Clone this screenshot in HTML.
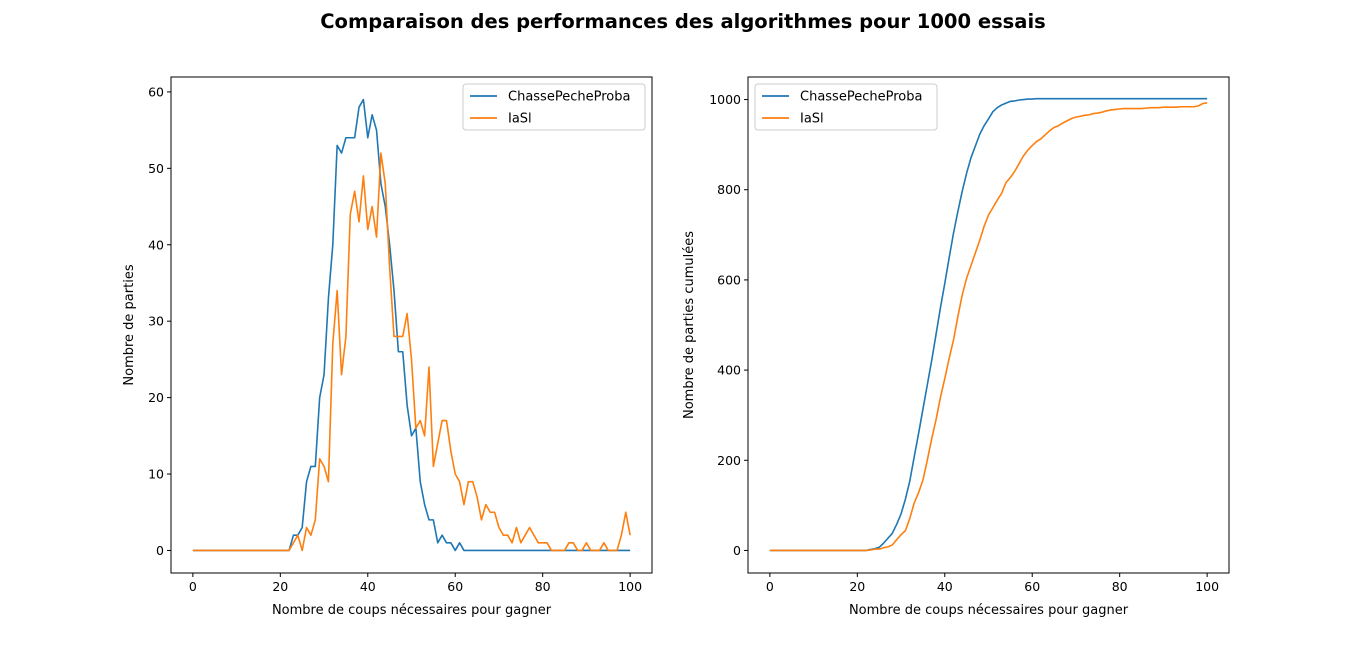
<!DOCTYPE html>
<html><head><meta charset="utf-8"><style>
body{margin:0;background:#fff;width:1366px;height:644px;overflow:hidden;font-family:"Liberation Sans","DejaVu Sans",sans-serif;}
svg text{font-family:"DejaVu Sans","Liberation Sans",sans-serif;}
</style></head><body>
<svg id="chart" width="1366" height="644">
<text x="683" y="28" text-anchor="middle" font-size="19.5" font-weight="bold">Comparaison des performances des algorithmes pour 1000 essais</text>
</svg>
<script>
const seriesNames = ["ChassePecheProba", "IaSl"];
const blueValues = [0,0,0,0,0,0,0,0,0,0,0,0,0,0,0,0,0,0,0,0,0,0,0,2,2,3,9,11,11,20,23,33,40,53,52,54,54,54,58,59,54,57,55,48,45,40,34,26,26,19,15,16,9,6,4,4,1,2,1,1,0,1,0,0,0,0,0,0,0,0,0,0,0,0,0,0,0,0,0,0,0,0,0,0,0,0,0,0,0,0,0,0,0,0,0,0,0,0,0,0,0];
const orangeValues = [0,0,0,0,0,0,0,0,0,0,0,0,0,0,0,0,0,0,0,0,0,0,0,1,2,0,3,2,4,12,11,9,27,34,23,28,44,47,43,49,42,45,41,52,48,37,28,28,28,31,25,16,17,15,24,11,14,17,17,13,10,9,6,9,9,7,4,6,5,5,3,2,2,1,3,1,2,3,2,1,1,1,0,0,0,0,1,1,0,0,1,0,0,0,1,0,0,0,2,5,2];
const xTicks = [0,20,40,60,80,100];
const yTicksLeft = [0,10,20,30,40,50,60];
const yTicksRight = [0,200,400,600,800,1000];
const colors = ["#1f77b4","#ff7f0e"];

const svg = document.getElementById('chart');
const NS = "http://www.w3.org/2000/svg";
function mk(tag, attrs, parent){const e=document.createElementNS(NS,tag);for(const k in attrs)e.setAttribute(k,attrs[k]);(parent||svg).appendChild(e);return e;}
function cumsum(a){let s=0;return a.map(v=>s+=v);}

function drawAxes(cfg){
  const {left,top,width,height,xmin,xmax,ymin,ymax,yTicks,ylabel,series,legendX,prefix}=cfg;
  const g = mk('g',{});
  
  
  const xs = v => left + (v - xmin)/(xmax - xmin)*width;
  const ys = v => top + height - (v - ymin)/(ymax - ymin)*height;
  series.forEach((vals,si)=>{
    const d = vals.map((v,i)=>(i?'L':'M')+xs(i).toFixed(2)+','+ys(v).toFixed(2)).join(' ');
    const p = mk('path',{d:d,fill:'none',stroke:colors[si],'stroke-width':1.6,'stroke-linejoin':'round'},g);
    
    
  });
  mk('rect',{x:left,y:top,width:width,height:height,fill:'none',stroke:'#000','stroke-width':1},g);
  xTicks.forEach(t=>{
    const x=xs(t);
    mk('line',{x1:x,x2:x,y1:top+height,y2:top+height+4,stroke:'#000'},g);
    const tx=mk('text',{x:x,y:top+height+18,'text-anchor':'middle','font-size':12.5},g);
    tx.textContent=t;
    
    
  });
  yTicks.forEach(t=>{
    const y=ys(t);
    mk('line',{x1:left-4,x2:left,y1:y,y2:y,stroke:'#000'},g);
    const tx=mk('text',{x:left-7,y:y+4.5,'text-anchor':'end','font-size':12.5},g);
    tx.textContent=t;
    
    
  });
  const xl=mk('text',{x:left+width/2,y:top+height+41,'text-anchor':'middle','font-size':13},g);
  xl.textContent='Nombre de coups nécessaires pour gagner';
  
  
  const yl=mk('text',{x:0,y:0,'text-anchor':'middle','font-size':13,transform:`translate(${cfg.ylabelX},${top+height/2}) rotate(-90)`},g);
  yl.textContent=ylabel;
  
  
  const lg=mk('g',{},g);
  
  
  mk('rect',{x:legendX,y:top+7,width:182,height:46,rx:3,fill:'#fff',stroke:'#ccc'},lg);
  seriesNames.forEach((n,i)=>{
    const y=top+19+i*22;
    mk('line',{x1:legendX+7,x2:legendX+34,y1:y,y2:y,stroke:colors[i],'stroke-width':1.8},lg);
    const t=mk('text',{x:legendX+45,y:y+4.5,'font-size':13},lg);
    t.textContent=n;
    
    
  });
}
drawAxes({prefix:'left',left:171,top:77,width:481,height:496,xmin:-5,xmax:105,ymin:-2.95,ymax:61.95,yTicks:yTicksLeft,ylabel:'Nombre de parties',series:[blueValues,orangeValues],legendX:463,ylabelX:133});
drawAxes({prefix:'right',left:748,top:77,width:481,height:496,xmin:-5,xmax:105,ymin:-50,ymax:1050,yTicks:yTicksRight,ylabel:'Nombre de parties cumulées',series:[cumsum(blueValues),cumsum(orangeValues)],legendX:755,ylabelX:693});
</script>
</body></html>
